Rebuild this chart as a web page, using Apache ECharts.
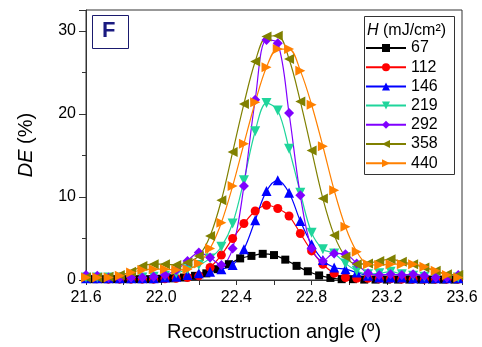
<!DOCTYPE html>
<html>
<head>
<meta charset="utf-8">
<script src="https://cdn.jsdelivr.net/npm/echarts@6/dist/echarts.min.js"></script>
<style>
html,body{margin:0;padding:0;background:#fff;}
#chart{width:482px;height:347px;}
</style>
</head>
<body>
<div id="chart"></div>
<script>
// x positions (reconstruction angle, degrees)
const angles = [21.60, 21.66, 21.72, 21.78, 21.84, 21.90, 21.96, 22.02, 22.08, 22.14, 22.20, 22.26, 22.32, 22.38, 22.44, 22.50, 22.56, 22.62, 22.68, 22.74, 22.80, 22.86, 22.92, 22.98, 23.04, 23.10, 23.16, 23.22, 23.28, 23.34, 23.40, 23.46, 23.52, 23.58];
const angles67 = [21.64, 21.70, 21.76, 21.82, 21.88, 21.94, 22.00, 22.06, 22.12, 22.18, 22.24, 22.30, 22.36, 22.42, 22.48, 22.54, 22.60, 22.66, 22.72, 22.78, 22.84, 22.90, 22.96, 23.02, 23.08, 23.14, 23.20, 23.26, 23.32, 23.38, 23.44, 23.50, 23.56];

const seriesNames = ['67', '112', '146', '219', '292', '358', '440'];

// DE (%) values
const de67  = [0.1, 0.1, 0.1, 0.1, 0.1, 0.1, 0.15, 0.2, 0.3, 0.5, 0.8, 1.3, 1.9, 2.6, 2.9, 3.15, 3.0, 2.45, 1.7, 1.05, 0.55, 0.25, 0.1, 0.1, 0.05, 0.05, 0.05, 0.05, 0.05, 0.05, 0.05, 0.05, 0.05];
const de112 = [0.2, 0.15, 0.1, 0.1, 0.1, 0.1, 0.1, 0.15, 0.2, 0.3, 0.5, 1.5, 3.0, 5.0, 6.8, 8.3, 9.0, 8.6, 7.7, 5.6, 3.5, 1.9, 0.8, 0.3, 0.2, 0.2, 0.15, 0.15, 0.1, 0.1, 0.1, 0.1, 0.1, 0.1];
const de146 = [0.2, 0.2, 0.2, 0.2, 0.2, 0.2, 0.2, 0.3, 0.4, 0.6, 0.8, 1.0, 1.3, 1.8, 3.7, 7.2, 10.7, 12.0, 10.5, 7.1, 4.3, 2.4, 1.5, 1.3, 0.9, 0.5, 0.3, 0.3, 0.3, 0.2, 0.2, 0.2, 0.2, 0.2];
const de219 = [0.3, 0.3, 0.3, 0.3, 0.3, 0.3, 0.4, 0.5, 0.8, 1.3, 1.8, 2.6, 4.0, 6.8, 12.0, 17.9, 21.3, 20.4, 15.8, 10.5, 5.7, 3.7, 3.2, 2.0, 1.1, 0.7, 0.8, 1.0, 0.7, 0.5, 0.4, 0.3, 0.3, 0.3];
const de292 = [0.6, 0.5, 0.3, 0.3, 0.3, 0.3, 0.4, 0.6, 1.2, 2.3, 3.3, 2.7, 1.8, 3.8, 11.3, 21.7, 28.9, 28.5, 20.1, 10.2, 3.8, 2.3, 3.2, 3.1, 2.0, 0.8, 0.6, 0.7, 0.6, 0.7, 0.5, 0.3, 0.3, 0.6];
const de358 = [0.3, 0.3, 0.4, 0.6, 1.0, 1.7, 1.9, 1.9, 1.8, 2.1, 2.9, 5.3, 9.6, 15.4, 21.2, 26.3, 29.3, 29.4, 26.6, 21.5, 15.6, 9.8, 5.4, 2.8, 1.9, 2.0, 2.3, 2.5, 2.2, 1.9, 1.5, 1.1, 0.7, 0.6];
const de440 = [0.3, 0.3, 0.3, 0.5, 0.9, 1.2, 1.3, 1.3, 1.2, 1.3, 2.0, 3.8, 6.9, 11.3, 16.4, 21.4, 25.6, 27.8, 27.8, 25.2, 21.1, 16.1, 10.8, 6.4, 3.4, 1.9, 1.8, 1.9, 1.9, 1.9, 1.6, 1.1, 0.6, 0.3];

const xTicks = [21.6, 22.0, 22.4, 22.8, 23.2, 23.6];
const yTicks = [0, 10, 20, 30];

const colors = ['#000000', '#ff0000', '#0000ff', '#1fd59b', '#8000ff', '#808000', '#ff8000'];
const symbols = ['rect', 'circle', 'triangle', 'triangle', 'diamond', 'triangle', 'triangle'];
const rotations = [0, 0, 0, 180, 0, 90, -90];
const sizes = [8, 9, 10, 10, 10, 10, 10];

const xs = [angles67, angles, angles, angles, angles, angles, angles];
const ys = [de67, de112, de146, de219, de292, de358, de440];

const FONT = 'Arial, "Liberation Sans", sans-serif';

const series = seriesNames.map((name, k) => ({
  name: name,
  type: 'line',
  smooth: 0.35,
  data: xs[k].map((x, i) => [x, ys[k][i]]),
  symbol: symbols[k],
  symbolRotate: rotations[k],
  symbolSize: sizes[k],
  showAllSymbol: true,
  color: colors[k],
  lineStyle: { width: 1.2, color: colors[k] },
  itemStyle: { color: colors[k] },
  clip: true,
  animation: false
}));

const chart = echarts.init(document.getElementById('chart'), null, { renderer: 'canvas' });
chart.setOption({
  animation: false,
  backgroundColor: '#ffffff',
  grid: { left: 86, right: 20, top: 10, bottom: 60, show: true, borderColor: '#333', borderWidth: 1 },
  xAxis: {
    type: 'value',
    min: xTicks[0],
    max: xTicks[xTicks.length - 1],
    interval: 0.4,
    name: 'Reconstruction angle (º)',
    nameLocation: 'middle',
    nameGap: 42,
    nameTextStyle: { fontSize: 20, color: '#000', fontFamily: FONT },
    axisLine: { lineStyle: { color: '#333', width: 1 } },
    axisTick: { length: 5, lineStyle: { color: '#333' } },
    minorTick: { show: true, splitNumber: 2, length: 5, lineStyle: { color: '#333' } },
    axisLabel: { fontSize: 16, color: '#000', fontFamily: FONT, margin: 10, formatter: v => v.toFixed(1) },
    splitLine: { show: false }
  },
  yAxis: {
    type: 'value',
    min: 0,
    max: 32.5,
    interval: 10,
    name: '{i|DE} (%)',
    nameLocation: 'middle',
    nameGap: 50,
    nameTextStyle: {
      fontSize: 20, color: '#000', fontFamily: FONT,
      rich: { i: { fontSize: 20, fontStyle: 'italic', color: '#000', fontFamily: FONT } }
    },
    axisLine: { show: true, lineStyle: { color: '#333', width: 1 } },
    axisTick: { length: 7, lineStyle: { color: '#333' } },
    minorTick: { show: true, splitNumber: 2, length: 4, lineStyle: { color: '#333' } },
    axisLabel: { fontSize: 16, color: '#000', fontFamily: FONT, margin: 10, showMaxLabel: false,
      formatter: v => (yTicks.indexOf(v) >= 0 ? String(v) : '') },
    splitLine: { show: false }
  },
  legend: {
    orient: 'vertical',
    left: 365,
    top: 40,
    padding: 0,
    itemWidth: 40,
    itemHeight: 10,
    itemGap: 3.2,
    data: seriesNames,
    textStyle: { fontSize: 16, color: '#000', fontFamily: FONT, lineHeight: 16, padding: [0, 0, 0, 0] },
    z: 10
  },
  graphic: [
    { type: 'rect', left: 364, top: 16, z: 5, shape: { width: 90, height: 158 },
      style: { fill: '#fff', stroke: '#333', lineWidth: 1 } },
    { type: 'text', left: 367, top: 23, z: 6,
      style: { text: '{i|H} (mJ/cm²)', fontSize: 16, fontFamily: FONT, fill: '#000',
        rich: { i: { fontStyle: 'italic', fontSize: 16, fontFamily: FONT, fill: '#000' } } } },
    { type: 'rect', left: 92, top: 15, z: 5, shape: { width: 36, height: 33 },
      style: { fill: '#fff', stroke: '#1a1a6e', lineWidth: 1 } },
    { type: 'text', left: 102, top: 20, z: 6,
      style: { text: 'F', fontSize: 22, fontWeight: 'bold', fontFamily: FONT, fill: '#1a1a80' } }
  ],
  series: series
});
</script>
</body>
</html>
